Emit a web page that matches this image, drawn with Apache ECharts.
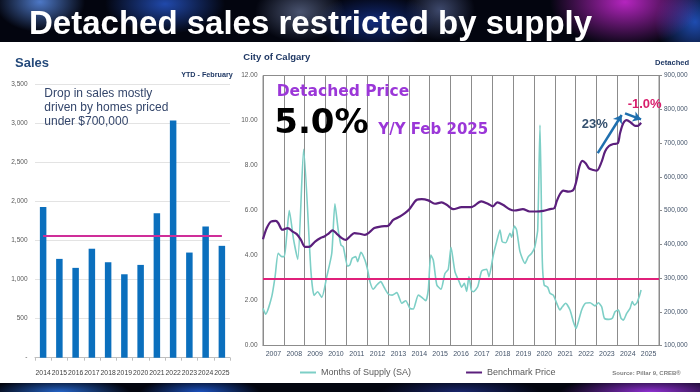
<!DOCTYPE html>
<html><head><meta charset="utf-8">
<script src="https://cdn.jsdelivr.net/npm/echarts/dist/echarts.min.js"></script>
<style>
html,body{margin:0;padding:0;width:700px;height:392px;overflow:hidden;background:#03050f;}
#bg{position:absolute;left:0;top:0;width:700px;height:392px;
background:
 radial-gradient(ellipse 45px 30px at 40px 2px, rgba(90,140,230,0.85), rgba(0,0,0,0)),
 radial-gradient(ellipse 60px 30px at 165px 4px, rgba(40,90,210,0.8), rgba(0,0,0,0)),
 radial-gradient(ellipse 45px 30px at 300px 12px, rgba(120,135,175,0.6), rgba(0,0,0,0)),
 radial-gradient(ellipse 60px 28px at 375px 22px, rgba(25,60,170,0.7), rgba(0,0,0,0)),
 radial-gradient(ellipse 35px 30px at 440px 10px, rgba(120,140,200,0.5), rgba(0,0,0,0)),
 radial-gradient(ellipse 75px 45px at 625px 2px, rgba(200,40,210,0.9), rgba(0,0,0,0)),
 radial-gradient(ellipse 40px 40px at 695px 22px, rgba(40,100,230,0.75), rgba(0,0,0,0)),
 radial-gradient(ellipse 70px 14px at 60px 392px, rgba(40,110,220,0.9), rgba(0,0,0,0)),
 radial-gradient(ellipse 60px 14px at 200px 392px, rgba(30,90,210,0.9), rgba(0,0,0,0)),
 radial-gradient(ellipse 80px 14px at 460px 392px, rgba(40,60,170,0.6), rgba(0,0,0,0)),
 radial-gradient(ellipse 90px 16px at 650px 392px, rgba(150,50,220,0.95), rgba(0,0,0,0)),
 #03050f;}
#panel{position:absolute;left:0;top:42px;width:700px;height:341px;background:#ffffff;}
#chart{position:absolute;left:0;top:0;width:700px;height:392px;}
</style>
</head><body>
<div id="bg"></div><div id="panel"></div><div id="chart"></div>
<script>
// ---- Left chart: detached sales YTD February ----
const salesYears = ['2014','2015','2016','2017','2018','2019','2020','2021','2022','2023','2024','2025'];
const salesValues = [1930,1265,1150,1395,1222,1068,1188,1850,3035,1346,1679,1432];
const salesAverage = 1560;

// ---- Right chart: months of supply and benchmark price ----
const axisYears = ['2007','2008','2009','2010','2011','2012','2013','2014','2015','2016','2017','2018','2019','2020','2021','2022','2023','2024','2025'];
const supplyTime = [2007.00,2007.13,2007.42,2007.58,2007.73,2007.90,2008.02,2008.14,2008.26,2008.47,2008.67,2008.95,2009.30,2009.45,2009.62,2009.82,2010.06,2010.30,2010.45,2010.61,2010.74,2010.85,2011.06,2011.17,2011.28,2011.45,2011.54,2011.70,2011.89,2012.02,2012.13,2012.29,2012.46,2012.65,2012.81,2013.01,2013.20,2013.42,2013.66,2013.85,2014.05,2014.21,2014.45,2014.62,2014.81,2014.93,2015.05,2015.17,2015.34,2015.54,2015.73,2015.89,2016.02,2016.21,2016.41,2016.53,2016.66,2016.77,2016.88,2017.00,2017.09,2017.30,2017.49,2017.73,2017.84,2018.05,2018.21,2018.37,2018.48,2018.65,2018.85,2018.93,2019.06,2019.17,2019.33,2019.57,2019.73,2019.89,2020.02,2020.09,2020.18,2020.29,2020.40,2020.49,2020.66,2020.77,2020.93,2021.09,2021.25,2021.36,2021.52,2021.73,2021.89,2022.02,2022.13,2022.29,2022.48,2022.69,2022.93,2023.09,2023.25,2023.38,2023.60,2023.76,2023.89,2024.05,2024.18,2024.29,2024.45,2024.61,2024.72,2024.81,2024.93,2025.04,2025.14];
const supplyValues = [1.65,1.39,2.17,3.06,4.10,3.95,3.95,4.90,6.00,4.69,3.83,8.72,3.30,2.23,2.39,2.14,3.06,4.10,6.30,5.13,4.47,4.39,3.53,3.58,3.88,3.95,3.73,4.14,3.80,3.36,2.84,2.50,2.69,2.84,2.59,2.29,2.24,2.35,1.88,1.99,1.65,1.62,2.24,2.14,1.99,2.47,4.02,3.80,2.69,2.50,3.20,3.39,4.36,3.28,2.84,2.59,2.76,2.40,3.06,2.45,2.39,2.61,3.31,3.39,3.06,4.02,4.61,5.13,4.61,4.57,4.99,4.81,5.31,5.13,4.17,3.65,3.95,4.10,4.32,4.61,5.13,9.80,3.80,2.69,2.59,2.32,2.24,1.88,1.58,1.72,1.88,1.58,1.06,0.76,1.06,1.58,1.88,1.90,1.76,1.90,1.72,1.21,1.16,1.21,1.50,1.58,1.21,1.13,1.43,1.65,1.95,1.80,1.88,2.14,2.47];
const priceTime = [2007.00,2007.18,2007.38,2007.61,2007.73,2007.93,2008.19,2008.41,2008.62,2008.82,2009.02,2009.21,2009.50,2009.74,2009.94,2010.13,2010.34,2010.54,2010.78,2010.98,2011.17,2011.38,2011.65,2011.89,2012.10,2012.34,2012.70,2013.01,2013.25,2013.57,2013.81,2014.01,2014.38,2014.62,2014.93,2015.25,2015.57,2015.81,2016.13,2016.53,2016.99,2017.47,2017.79,2018.03,2018.24,2018.51,2018.83,2019.07,2019.47,2019.79,2020.11,2020.45,2020.77,2020.98,2021.09,2021.25,2021.41,2021.65,2021.89,2022.05,2022.18,2022.32,2022.48,2022.64,2022.85,2023.01,2023.25,2023.41,2023.60,2023.81,2024.02,2024.13,2024.29,2024.45,2024.66,2024.85,2024.98,2025.14];
const priceValues = [415000,448000,467000,469000,463000,443000,448000,438000,430000,413000,392000,392000,408000,418000,423000,431000,441000,431000,418000,413000,423000,433000,431000,428000,435000,448000,453000,455000,472000,482000,492000,503000,532000,534000,530000,520000,524000,517000,504000,510000,510000,527000,520000,512000,524000,517000,504000,500000,504000,497000,497000,499000,504000,507000,527000,549000,559000,556000,561000,591000,630000,647000,640000,625000,620000,618000,645000,675000,691000,697000,699000,729000,759000,768000,760000,751000,751000,760000];
const supplyThreshold = 2.95;
const supplyTicks = {min:0, max:12, interval:2};
const priceTicks = {min:100000, max:900000, interval:100000};
const salesTicks = {min:0, max:3500, interval:500};
// annotation arrows (time, price)
const arrowUp = [[2023.06, 670000],[2024.21, 783000]];
const arrowDown = [[2024.37, 788000],[2025.14, 770000]];

const zip = (a,b) => a.map((v,i)=>[v,b[i]]);
const fmt = v => v.toLocaleString('en-US');
const AR = 'Liberation Sans, Arial, sans-serif';
const DV = 'DejaVu Sans, Verdana, sans-serif';

const chart = echarts.init(document.getElementById('chart'), null, {renderer:'canvas'});
const txt = (x,y,text,size,color,weight,family,align) => ({
  type:'text', x:x, y:y, z:100,
  style:{text:text, fontSize:size, fill:color, fontWeight:weight||'normal', fontFamily:family||AR, align:align||'left', verticalAlign:'middle'}
});

chart.setOption({
  backgroundColor:'transparent',
  animation:false,
  textStyle:{fontFamily:AR},
  grid:[
    {left:35, top:84.3, width:195, height:273.4},
    {left:263, top:75.5, width:396, height:270, show:true, borderColor:'#8c8c8c', borderWidth:1, backgroundColor:'transparent'}
  ],
  legend:{
    data:['Months of Supply (SA)','Benchmark Price'],
    left:295, top:363, itemWidth:16, itemHeight:2, icon:'rect', itemGap:55,
    textStyle:{fontSize:9, color:'#595959', fontFamily:AR}
  },
  xAxis:[
    {type:'category', gridIndex:0, data:salesYears,
     axisLine:{lineStyle:{color:'#bfbfbf'}}, axisTick:{show:true, length:3, lineStyle:{color:'#bfbfbf'}},
     axisLabel:{fontSize:6.8, color:'#404040', margin:12, interval:0}, splitLine:{show:false}},
    {type:'category', gridIndex:1, data:axisYears, boundaryGap:true,
     axisLine:{lineStyle:{color:'#8c8c8c'}}, axisTick:{show:false},
     axisLabel:{fontSize:7, color:'#44546a', margin:5, interval:0},
     splitLine:{show:true, interval:0, lineStyle:{color:'#8c8c8c', width:1}}},
    {type:'value', gridIndex:1, min:2007, max:2026, show:false}
  ],
  yAxis:[
    {type:'value', gridIndex:0, min:salesTicks.min, max:salesTicks.max, interval:salesTicks.interval,
     axisLine:{show:false}, axisTick:{show:false},
     axisLabel:{fontSize:6.5, color:'#595959', margin:7.5, formatter:v=> v===0 ? '-' : fmt(v)},
     splitLine:{lineStyle:{color:'#e3e3e3'}}},
    {type:'value', gridIndex:1, position:'left', min:supplyTicks.min, max:supplyTicks.max, interval:supplyTicks.interval,
     axisLine:{show:true, lineStyle:{color:'#8c8c8c'}}, axisTick:{show:false},
     axisLabel:{fontSize:6.5, color:'#595959', margin:5.5, formatter:v=>v.toFixed(2)},
     splitLine:{show:false}},
    {type:'value', gridIndex:1, position:'right', min:priceTicks.min, max:priceTicks.max, interval:priceTicks.interval,
     axisLine:{show:true, lineStyle:{color:'#8c8c8c'}}, axisTick:{show:true, length:3, lineStyle:{color:'#8c8c8c'}},
     axisLabel:{fontSize:6.5, color:'#44546a', margin:5, formatter:fmt},
     splitLine:{show:false}}
  ],
  series:[
    {type:'bar', xAxisIndex:0, yAxisIndex:0, data:salesValues, barWidth:6.5,
     itemStyle:{color:'#0b6fbd'},
     markLine:{silent:true, symbol:'none', label:{show:false},
       lineStyle:{color:'#cf2e99', width:2, type:'solid'},
       data:[[{coord:[salesYears[0], salesAverage]},{coord:[salesYears[salesYears.length-1], salesAverage]}]]}},
    {name:'Months of Supply (SA)', type:'line', xAxisIndex:2, yAxisIndex:1,
     data:zip(supplyTime, supplyValues), showSymbol:false, smooth:0.2,
     lineStyle:{color:'#7dcfc6', width:1.6}, itemStyle:{color:'#7dcfc6'},
     markLine:{silent:true, symbol:'none', label:{show:false},
       lineStyle:{color:'#e0207a', width:2, type:'solid'},
       data:[{yAxis:supplyThreshold}]}},
    {name:'Benchmark Price', type:'line', xAxisIndex:2, yAxisIndex:2,
     data:zip(priceTime, priceValues), showSymbol:false, smooth:0.3,
     lineStyle:{color:'#5b1f7c', width:2.2}, itemStyle:{color:'#5b1f7c'},
     markLine:{silent:true, symbol:['none','arrow'], symbolSize:8, label:{show:false},
       lineStyle:{color:'#1f6fae', width:2.5, type:'solid'},
       data:[[{coord:arrowUp[0]},{coord:arrowUp[1]}],[{coord:arrowDown[0]},{coord:arrowDown[1]}]]}}
  ],
  graphic:[
    txt(29, 24.5, 'Detached sales restricted by supply', 33, '#ffffff', 'bold'),
    txt(15, 63.3, 'Sales', 13, '#24497a', 'bold'),
    txt(232.7, 74.7, 'YTD - February', 7.2, '#1f3864', 'bold', AR, 'right'),
    txt(44.3, 93.3, 'Drop in sales mostly', 12, '#34466b'),
    txt(44.3, 107.3, 'driven by homes priced', 12, '#34466b'),
    txt(44.3, 121.2, 'under $700,000', 12, '#34466b'),
    txt(243.3, 57, 'City of Calgary', 9.5, '#1f3864', 'bold'),
    txt(655, 63.3, 'Detached', 7.6, '#1f3864', 'bold'),
    txt(276.7, 92.3, 'Detached Price', 15.5, '#9b37d8', 'bold', DV),
    txt(274.3, 124.5, '5.0%', 34, '#000000', 'bold', DV),
    txt(378.3, 130, 'Y/Y Feb 2025', 15, '#9b37d8', 'bold', DV),
    txt(581.7, 124, '23%', 13, '#34506e', 'bold'),
    txt(627.7, 104.3, '-1.0%', 13, '#d81e6c', 'bold'),
    txt(612.3, 373.3, 'Source: Pillar 9, CREB\u00AE', 6, '#7f7f7f', 'bold')
  ]
});
</script>
</body></html>
